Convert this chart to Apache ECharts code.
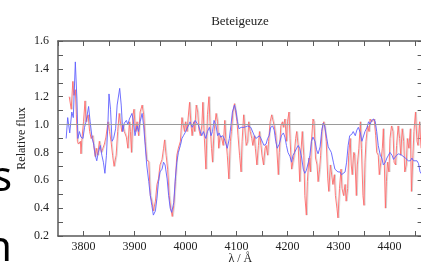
<!DOCTYPE html>
<html><head><meta charset="utf-8">
<script src="https://cdn.jsdelivr.net/npm/echarts@6/dist/echarts.min.js"></script>
<style>html,body{margin:0;padding:0;background:#fff}#c{width:421px;height:264px}</style>
</head><body><div id="c"></div>
<script>
var titleText = 'Beteigeuze';
var xName = 'λ / Å';
var yName = 'Relative flux';
var xTickLabels = ['3800','3900','4000','4100','4200','4300','4400'];
var yTickLabels = ['0.2','0.4','0.6','0.8','1.0','1.2','1.4','1.6'];
var sideText = ['s','n'];

var blueWave = [3766,3769,3773,3777,3780,3784,3787,3789,3792,3795,3799,3802,3805,3810,3813,3817,3820,3823,3826,3829,3833,3836,3839,3842,3845,3848,3850,3853,3856,3859,3863,3866,3871,3874,3877,3880,3884,3887,3890,3895,3898,3901,3905,3908,3911,3915,3918,3921,3924,3928,3931,3934,3937,3941,3944,3947,3950,3954,3957,3960,3964,3967,3970,3973,3977,3980,3983,3986,3990,3993,3996,3999,4003,4006,4009,4013,4016,4019,4022,4026,4029,4032,4035,4040,4043,4047,4050,4053,4056,4060,4063,4066,4069,4073,4076,4079,4082,4086,4089,4092,4096,4099,4102,4105,4109,4112,4115,4118,4122,4125,4128,4131,4135,4138,4141,4145,4148,4151,4154,4158,4161,4164,4167,4171,4174,4177,4180,4184,4188,4192,4195,4198,4201,4205,4208,4211,4214,4218,4221,4224,4228,4231,4234,4237,4241,4244,4247,4250,4254,4257,4260,4264,4267,4270,4273,4277,4280,4283,4286,4290,4293,4296,4299,4303,4306,4309,4313,4316,4319,4322,4326,4329,4333,4336,4339,4343,4346,4349,4352,4356,4359,4362,4365,4369,4372,4375,4378,4382,4385,4388,4392,4395,4398,4401,4405,4408,4411,4414,4418,4421,4424,4427,4431,4434,4437,4441,4444,4447,4450,4454,4457,4460,4464];
var blueFlux = [0.90,1.05,0.94,1.09,1.05,1.45,1.19,0.90,0.95,0.91,0.90,0.98,1.02,1.13,1.02,0.90,0.86,0.78,0.74,0.80,0.85,0.78,0.73,0.65,0.78,1.02,1.22,1.11,0.88,0.90,0.97,1.14,1.26,1.14,0.95,1.01,1.03,1.00,1.04,1.08,1.02,0.92,0.99,0.95,1.02,1.08,0.99,0.85,0.71,0.59,0.49,0.42,0.35,0.38,0.47,0.59,0.66,0.68,0.73,0.71,0.61,0.49,0.40,0.37,0.44,0.61,0.73,0.80,0.85,0.90,0.92,0.94,0.97,0.98,1.02,0.98,0.99,1.03,1.02,0.99,0.95,0.92,0.95,0.90,0.95,0.98,0.92,0.95,1.03,0.99,0.92,0.94,0.91,0.92,0.90,0.89,0.83,0.90,0.99,1.09,1.14,1.10,1.02,0.97,0.98,0.97,0.98,0.98,0.99,0.99,0.98,0.99,0.92,0.90,0.90,0.92,0.90,0.89,0.85,0.86,0.90,0.92,0.98,0.99,0.96,0.88,0.83,0.86,0.92,0.94,0.91,0.85,0.80,0.77,0.73,0.78,0.80,0.83,0.85,0.83,0.76,0.68,0.65,0.67,0.73,0.78,0.88,0.91,0.88,0.82,0.79,0.84,0.95,1.01,0.99,0.90,0.84,0.85,0.80,0.73,0.68,0.67,0.66,0.66,0.64,0.65,0.66,0.73,0.85,0.92,0.93,0.95,0.92,0.96,0.98,0.94,0.88,0.89,0.95,0.98,1.02,1.00,1.03,1.04,1.02,0.95,0.85,0.78,0.76,0.71,0.73,0.76,0.78,0.80,0.78,0.75,0.76,0.78,0.79,0.79,0.78,0.77,0.76,0.76,0.74,0.74,0.76,0.74,0.73,0.74,0.72,0.66,0.64];

var redWave = [3772,3776,3779,3781,3784,3786,3788,3790,3794,3795,3797,3800,3803,3805,3809,3812,3815,3818,3820,3823,3825,3828,3831,3835,3838,3841,3844,3848,3851,3854,3857,3860,3864,3867,3870,3872,3875,3877,3880,3884,3887,3890,3892,3894,3897,3899,3902,3905,3908,3911,3915,3918,3921,3924,3928,3931,3934,3937,3941,3944,3947,3950,3954,3957,3959,3962,3965,3968,3971,3974,3977,3980,3983,3986,3990,3993,3995,3998,4000,4003,4005,4008,4011,4013,4016,4018,4021,4024,4026,4029,4032,4034,4037,4040,4043,4046,4048,4051,4053,4056,4060,4063,4065,4068,4071,4074,4077,4079,4082,4085,4088,4090,4093,4096,4098,4101,4103,4106,4109,4111,4114,4116,4119,4122,4124,4127,4130,4132,4135,4137,4140,4143,4145,4148,4150,4153,4156,4158,4161,4163,4166,4169,4171,4174,4177,4179,4182,4184,4187,4190,4192,4195,4198,4200,4203,4205,4208,4211,4213,4216,4218,4221,4224,4226,4229,4232,4234,4237,4239,4242,4245,4247,4250,4252,4255,4258,4260,4263,4265,4268,4271,4273,4276,4279,4281,4284,4286,4289,4292,4294,4297,4299,4302,4305,4307,4310,4313,4315,4318,4320,4323,4325,4327,4330,4332,4335,4337,4340,4343,4345,4348,4350,4352,4354,4357,4360,4362,4365,4367,4370,4373,4375,4378,4380,4383,4386,4388,4390,4392,4394,4396,4399,4401,4404,4407,4409,4412,4414,4417,4420,4422,4425,4428,4430,4433,4435,4438,4441,4443,4446,4448,4451,4454,4456,4459,4462];
var redFlux = [1.20,1.11,1.31,1.21,1.25,1.07,0.88,0.86,0.88,0.79,0.90,1.02,1.17,1.02,1.07,0.95,0.90,0.92,0.85,0.77,0.83,0.78,0.88,0.80,0.83,0.86,0.91,1.02,0.95,0.88,0.78,0.70,0.78,0.95,1.08,1.07,0.95,1.00,0.95,0.91,0.83,1.02,0.95,0.80,1.07,1.11,0.95,1.02,0.92,1.09,1.14,1.07,0.88,0.75,0.73,0.49,0.45,0.38,0.45,0.57,0.61,0.71,0.75,0.83,0.89,0.78,0.68,0.49,0.40,0.34,0.42,0.59,0.78,0.83,0.88,1.05,1.04,0.95,1.02,0.95,1.04,1.16,0.99,0.92,1.02,0.95,1.14,1.09,0.97,0.92,0.99,1.16,0.90,0.68,1.07,1.20,1.02,0.83,0.73,0.95,1.08,1.02,0.83,0.92,0.90,0.85,1.03,0.90,0.78,0.61,0.88,0.95,1.09,1.15,1.14,1.02,0.92,0.78,0.66,0.88,1.07,0.99,0.85,0.88,1.02,0.95,0.90,0.85,0.92,0.83,0.71,0.85,0.95,0.85,0.78,0.71,0.83,0.85,0.78,0.88,1.02,1.07,1.08,0.99,0.92,0.83,0.64,0.80,0.99,1.02,0.98,1.04,0.88,1.02,1.09,0.90,0.68,0.67,0.78,0.90,0.95,0.85,0.59,0.78,0.95,0.78,0.49,0.35,0.59,0.76,0.66,0.88,1.04,1.02,0.76,0.71,0.59,0.68,0.78,0.97,1.02,0.99,0.88,0.61,0.52,0.71,0.66,0.57,0.64,0.49,0.40,0.33,0.54,0.68,0.54,0.49,0.57,0.45,0.54,0.78,0.90,0.71,0.64,0.80,0.78,0.49,0.71,0.83,1.02,0.83,0.49,0.42,0.73,0.88,0.99,0.95,1.04,1.02,1.03,1.04,0.92,0.80,0.78,0.64,0.73,0.83,0.97,0.71,0.40,0.59,0.73,0.66,0.90,0.99,0.95,0.73,0.71,0.85,0.99,0.90,0.78,0.97,0.88,0.66,0.71,0.90,0.83,0.97,0.52,0.78,0.95,1.09,0.88,0.85,1.02,0.83];

function pairs(w, f) { return w.map(function (x, i) { return [x, f[i]]; }); }

var chart = echarts.init(document.getElementById('c'), null, {renderer: 'canvas'});
var serif = 'Liberation Serif';
var axisCol = '#5a5a5a';
chart.setOption({
  animation: false,
  backgroundColor: '#fff',
  grid: {left: 58, top: 41, width: 364.6, height: 195, containLabel: false, outerBoundsMode: 'none'},
  xAxis: [{
    type: 'value', min: 3750, max: 4465, interval: 50, position: 'bottom',
    name: xName, nameLocation: 'middle', nameGap: 17, nameMoveOverlap: false,
    nameTextStyle: {fontFamily: serif, fontSize: 12, color: '#222'},
    axisLine: {show: true, onZero: false, lineStyle: {color: axisCol, width: 1.5}},
    axisTick: {show: true, inside: true, length: 5, lineStyle: {color: axisCol, width: 1}},
    axisLabel: {margin: 5, fontFamily: serif, fontSize: 12, color: '#222', showMinLabel: false, showMaxLabel: false,
      formatter: function (v) { var s = String(Math.round(v)); return xTickLabels.indexOf(s) >= 0 ? s : ''; }},
    splitLine: {show: false}
  }, {
    type: 'value', min: 3750, max: 4465, interval: 50, position: 'top',
    axisLine: {show: true, onZero: false, lineStyle: {color: axisCol, width: 1.5}},
    axisTick: {show: true, inside: true, length: 5, lineStyle: {color: axisCol, width: 1}},
    axisLabel: {show: false}, splitLine: {show: false}
  }],
  yAxis: [{
    type: 'value', min: 0.2, max: 1.6, interval: 0.1, position: 'left',
    name: yName, nameLocation: 'middle', nameGap: 30, nameMoveOverlap: false,
    nameTextStyle: {fontFamily: serif, fontSize: 12, color: '#222'},
    axisLine: {show: true, onZero: false, lineStyle: {color: axisCol, width: 1.5}},
    axisTick: {show: true, inside: true, length: 5, lineStyle: {color: axisCol, width: 1}},
    axisLabel: {margin: 9, fontFamily: serif, fontSize: 12, color: '#222',
      formatter: function (v) { var s = v.toFixed(1); return yTickLabels.indexOf(s) >= 0 ? s : ''; }},
    splitLine: {show: false}
  }, {
    type: 'value', min: 0.2, max: 1.6, interval: 0.1, position: 'right',
    axisLine: {show: true, onZero: false, lineStyle: {color: axisCol, width: 1.5}},
    axisTick: {show: true, inside: true, length: 5, lineStyle: {color: axisCol, width: 1}},
    axisLabel: {show: false}, splitLine: {show: false}
  }],
  graphic: [
    {type: 'text', x: 240, y: 22, style: {text: titleText, fontFamily: serif, fontSize: 13, fill: '#222', textAlign: 'center', textVerticalAlign: 'middle'}},
    {type: 'text', x: 12, y: 158, style: {text: sideText[0], fontFamily: 'Noto Sans', fontSize: 42, fill: '#000', textAlign: 'right', textVerticalAlign: 'alphabetic'}},
    {type: 'text', x: 12, y: 228, style: {text: sideText[1], fontFamily: 'Noto Sans', fontSize: 42, fill: '#000', textAlign: 'right', textVerticalAlign: 'alphabetic'}}
  ],
  series: [{
    type: 'line', name: 'observed', data: pairs(redWave, redFlux), showSymbol: false, symbol: 'none',
    lineStyle: {color: '#ff6a6a', width: 0.9, shadowColor: 'rgba(190,190,190,0.6)', shadowBlur: 0, shadowOffsetX: 1},
    z: 3,
    markLine: {silent: true, symbol: 'none', label: {show: false},
      lineStyle: {color: '#9a9a9a', width: 1, type: 'solid'}, data: [{yAxis: 1.0}]}
  }, {
    type: 'line', name: 'model', data: pairs(blueWave, blueFlux), showSymbol: false, symbol: 'none',
    lineStyle: {color: '#6060ff', width: 0.9}, z: 4
  }]
});
</script></body></html>
